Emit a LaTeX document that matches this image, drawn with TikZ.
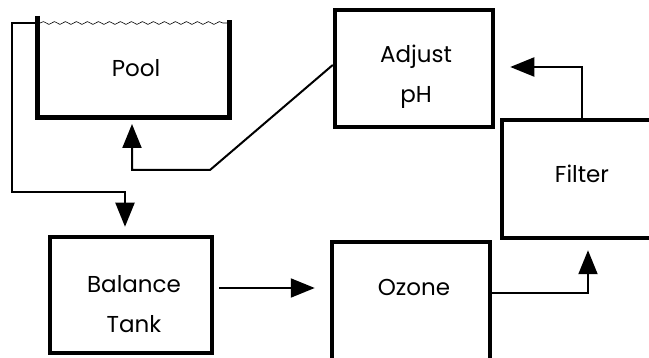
\documentclass[tikz,border=0pt]{standalone}
\usepackage{fontspec}
\setmainfont{Poppins}
\usetikzlibrary{arrows.meta,decorations.pathmorphing}

\begin{document}
\begin{tikzpicture}[x=1pt,y=-1pt,
  unitbox/.style={draw, line width=4.5pt, minimum width=158pt, minimum height=117pt},
  flow/.style={line width=2pt, -{Triangle[length=24pt,width=19pt]}},
  boxtext/.style={font=\fontsize{23}{40}\selectfont, align=center, anchor=base, inner sep=0pt}]
  \useasboundingbox (0,0) rectangle (649,358);

  % Draw the pool walls and the water surface
  \draw[line width=5pt] (37,16) -- (37,118) -- (229,118) -- (229,20);
  \draw[line width=0.6pt, decorate, decoration={snake, segment length=11pt, amplitude=1.4pt}] (40,23) -- (227,23);
  \node[boxtext] (pool) at (136,77) {Pool};
  \coordinate (outlet) at (37,23);
  \coordinate (floor) at (132,118);

  % Treatment units (text nodes sit on the baseline of their last line)
  \node[unitbox] (adjust) at (414,68.5) {};
  \node[boxtext] (adjusttext) at (416,103) {Adjust\\pH};
  \node[unitbox, minimum height=118pt] (filter) at (581,179) {};
  \node[boxtext] (filtertext) at (582,183) {Filter};
  \node[unitbox, minimum width=162pt, minimum height=116pt] (balance) at (131,295) {};
  \node[boxtext] (balancetext) at (134,333) {Balance\\Tank};
  \node[unitbox, minimum height=118pt] (ozone) at (411,301) {};
  \node[boxtext] (ozonetext) at (414,296) {Ozone};

  % Pipes between the units
  \coordinate (drop) at (125,192);
  \draw[flow, shorten >=8pt] (outlet) -- (12,23) -- (12,192) -- (drop) -- (drop |- balance.north);
  \draw[flow, shorten <=5pt, shorten >=15pt] (balance.east |- 0,288) -- (ozone.west |- 0,288);
  \draw[flow, shorten >=10pt] (ozone.east |- 0,293) -- (588,293) -- (588,0 |- filter.south);
  \draw[flow, shorten >=15pt] (582,0 |- filter.north) -- (582,67) -- (adjust.east |- 0,67);
  \draw[flow, shorten >=6pt] (adjust.west |- 0,65) -- (210,170) -- (132,170) -- (floor);
\end{tikzpicture}
\end{document}
